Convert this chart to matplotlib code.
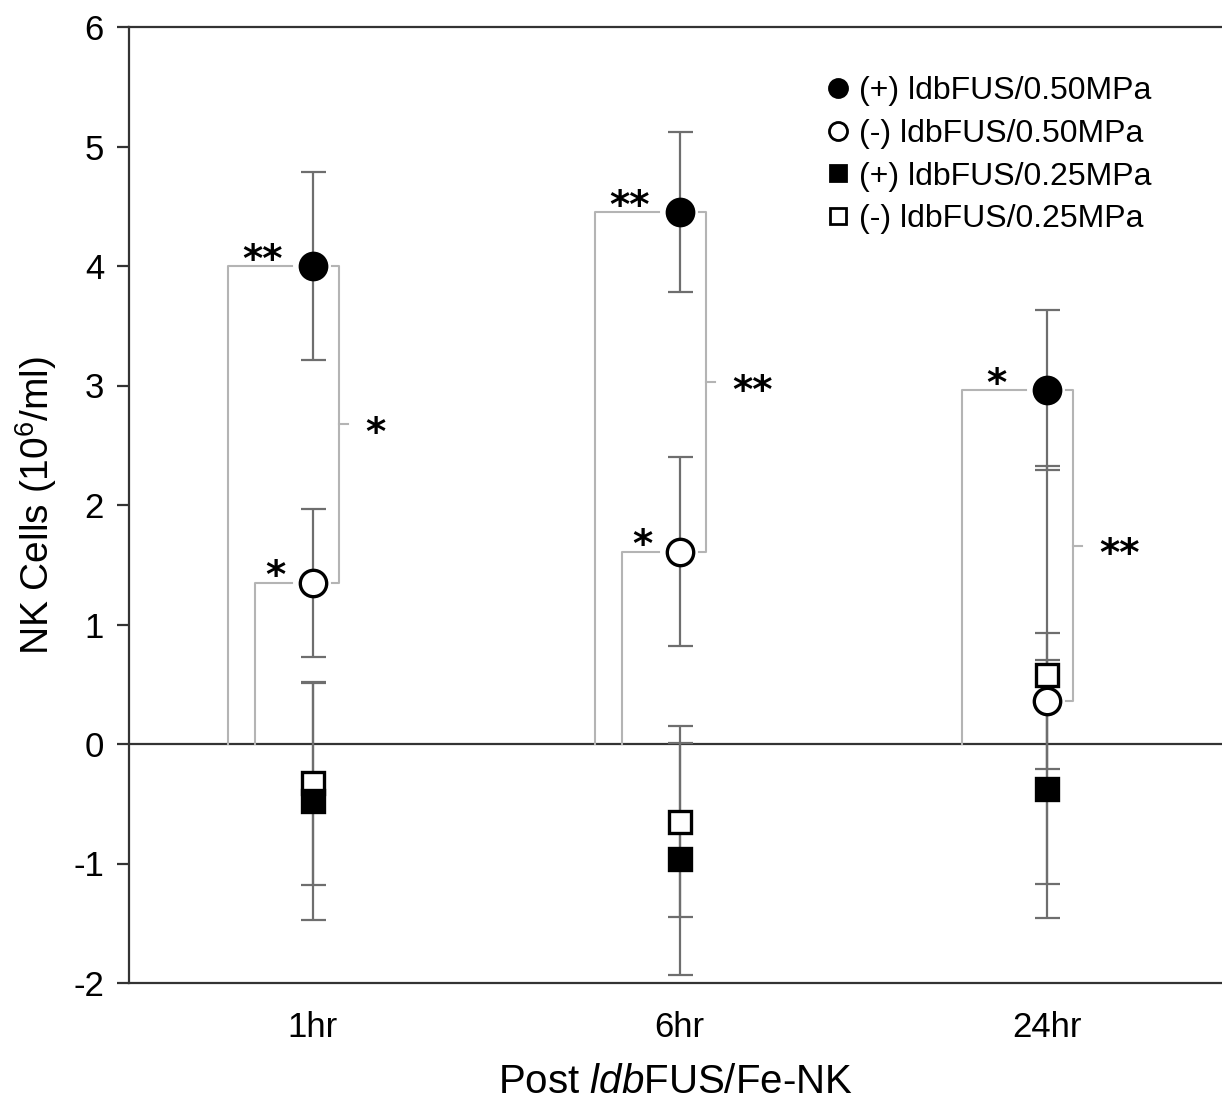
import numpy as np
import matplotlib
matplotlib.use('Agg')
import matplotlib.pyplot as plt
from matplotlib.lines import Line2D

plt.rcParams['font.family'] = ['Liberation Sans', 'DejaVu Sans']
plt.rcParams['mathtext.fontset'] = 'custom'
plt.rcParams['mathtext.rm'] = 'Liberation Sans'
plt.rcParams['mathtext.it'] = 'Liberation Sans:italic'
plt.rcParams['axes.unicode_minus'] = False

# data (10^6 cells/ml)
times = ['1hr', '6hr', '24hr']
plus_050 = [4.00, 4.45, 2.96]
plus_050_err = [0.79, 0.67, 0.67]
minus_050 = [1.35, 1.61, 0.36]
minus_050_err = [0.62, 0.79, 0.57]
plus_025 = [-0.48, -0.96, -0.38]
plus_025_err = [0.99, 0.97, 1.08]
minus_025 = [-0.33, -0.65, 0.58]
minus_025_err = [0.85, 0.80, 1.75]

labels = ['(+) ldbFUS/0.50MPa', '(-) ldbFUS/0.50MPa',
          '(+) ldbFUS/0.25MPa', '(-) ldbFUS/0.25MPa']

# significance marks
sig_plus_vs_zero = ['**', '**', '*']
sig_minus_vs_zero = ['*', '*', '']
sig_plus_vs_minus = ['*', '**', '**']

fig = plt.figure(figsize=(12.22, 11.01), dpi=100)
ax = fig.add_axes([129/1222, 118/1101, 1093/1222, 956/1101])

x = np.arange(1, len(times) + 1)
ecol = '#6e6e6e'
bcol = '#b4b4b4'

# series: (values, errors, marker, face, size)
series = [
    (minus_025, minus_025_err, 's', 'white', 16),
    (plus_025, plus_025_err, 's', 'black', 16),
    (minus_050, minus_050_err, 'o', 'white', 19),
    (plus_050, plus_050_err, 'o', 'black', 19),
]
for vals, errs, m, fc, ms in series:
    ax.errorbar(x, vals, yerr=errs, fmt='none', ecolor=ecol, elinewidth=1.6,
                capsize=9, capthick=1.6, zorder=2)
for vals, errs, m, fc, ms in series:
    ax.plot(x, vals, linestyle='none', marker=m, markersize=ms,
            markerfacecolor=fc, markeredgecolor='black', markeredgewidth=2.4,
            zorder=4)

ax.axhline(0, color='#333333', lw=1.6, zorder=1)

star_kw = dict(fontsize=28, fontweight='bold', family='DejaVu Sans',
               textcoords='offset points', zorder=5)

for i, xi in enumerate(x):
    # (+)0.50 vs zero
    lx = xi - 0.23
    ax.plot([lx, lx, xi - 0.056], [0, plus_050[i], plus_050[i]],
            color=bcol, lw=1.5, zorder=1)
    ax.annotate(sig_plus_vs_zero[i], (xi - 0.137, plus_050[i]),
                xytext=(0, -4), ha='center', va='baseline', **star_kw)
    # (-)0.50 vs zero
    if sig_minus_vs_zero[i]:
        lx2 = xi - 0.157
        ax.plot([lx2, lx2, xi - 0.056], [0, minus_050[i], minus_050[i]],
                color=bcol, lw=1.5, zorder=1)
        ax.annotate(sig_minus_vs_zero[i], (xi - 0.10, minus_050[i]),
                    xytext=(0, -4), ha='center', va='baseline', **star_kw)
    # (+) vs (-) at 0.50
    rx = xi + 0.072
    mid = (plus_050[i] + minus_050[i]) / 2
    ax.plot([xi + 0.052, rx, rx, xi + 0.052],
            [plus_050[i], plus_050[i], minus_050[i], minus_050[i]],
            color=bcol, lw=1.5, zorder=1)
    ax.plot([rx, xi + 0.098], [mid, mid], color=bcol, lw=1.5, zorder=1)
    ax.annotate(sig_plus_vs_minus[i], (xi + 0.143, mid),
                xytext=(0, -15), ha='left', va='baseline', **star_kw)

ax.set_xlim(0.5, 0.5 + 1093/367)
ax.set_ylim(-2, 6)
ax.set_yticks(np.arange(-2, 7, 1))
ax.set_xticks(x)
ax.set_xticklabels(times)
ax.tick_params(axis='x', length=0, pad=20, labelsize=25)
ax.tick_params(axis='y', length=9, width=1.6, pad=9, labelsize=25,
               direction='out', color='#333333')

for s in ['left', 'bottom', 'top']:
    ax.spines[s].set_linewidth(1.6)
    ax.spines[s].set_color('#333333')
ax.spines['right'].set_visible(False)

ax.set_ylabel(r'NK Cells (10$^{6}$/ml)', fontsize=28, labelpad=10)
ax.set_xlabel(r'Post $\mathit{ldb}$FUS/Fe-NK', fontsize=29, labelpad=14)

handles = [
    Line2D([], [], ls='none', marker='o', ms=13, mfc='black', mec='black', mew=2),
    Line2D([], [], ls='none', marker='o', ms=13, mfc='white', mec='black', mew=2),
    Line2D([], [], ls='none', marker='s', ms=12, mfc='black', mec='black', mew=2),
    Line2D([], [], ls='none', marker='s', ms=12, mfc='white', mec='black', mew=2),
]
fig.legend(handles, labels, loc='upper left', bbox_to_anchor=(827/1222, 1 - 76/1101),
           frameon=False, fontsize=23, handlelength=0.7, handletextpad=0.3,
           labelspacing=0.4, borderpad=0, borderaxespad=0)

fig.savefig('out.png', dpi=100)
